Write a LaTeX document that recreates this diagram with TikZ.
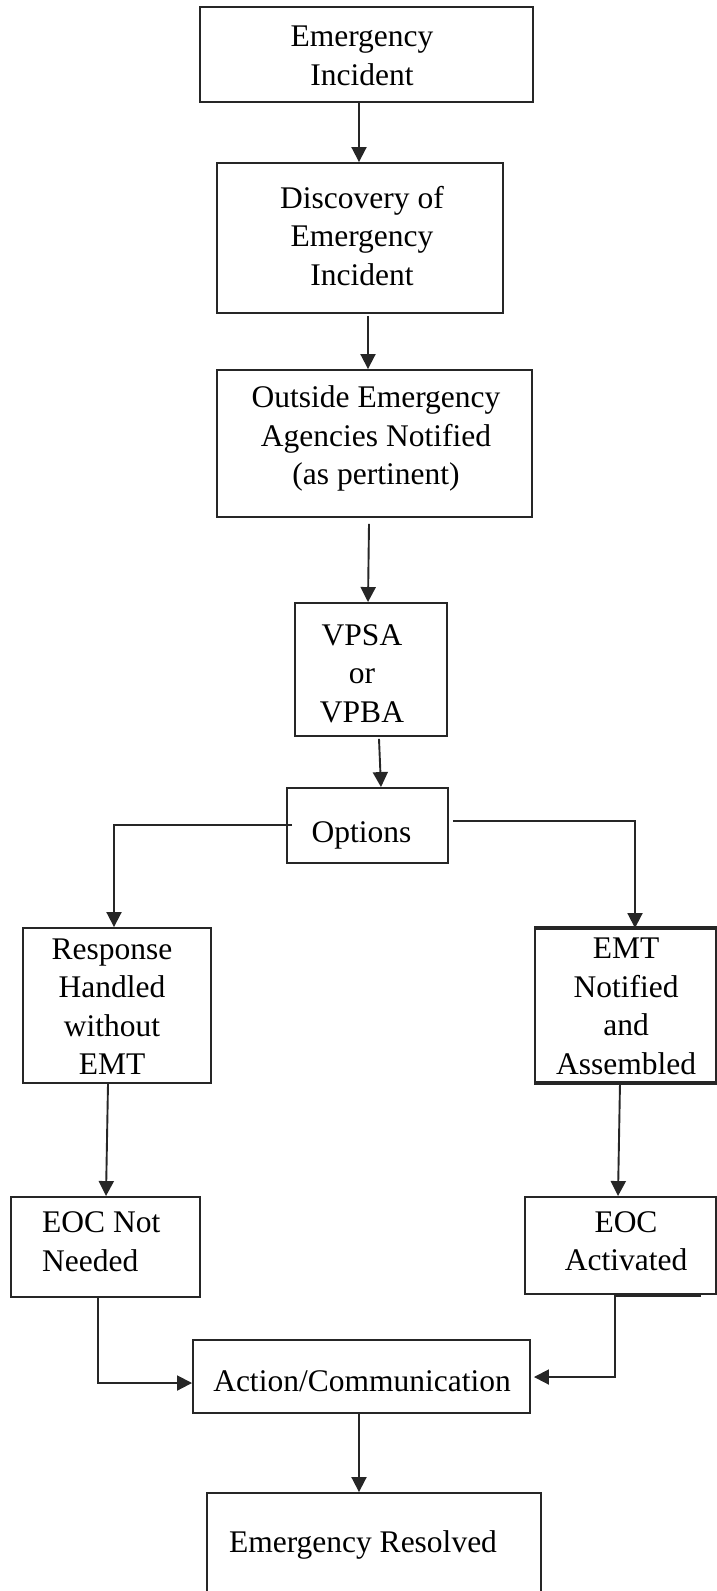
\documentclass[tikz,border=0pt]{standalone}
\usepackage{fontspec}
\setmainfont{Liberation Serif}
\usetikzlibrary{arrows.meta,calc}
\begin{document}
\begin{tikzpicture}[x=1pt,y=-1pt,
  box/.style={draw=black!85, line width=1.9pt, inner sep=0pt},
  txt/.style={inner sep=0pt, align=center, font=\fontsize{31.5}{38.5}\selectfont},
  arr/.style={draw=black!85, line width=1.9pt, -{Triangle[length=15pt,width=15pt]}}]
\useasboundingbox (0,0) rectangle (717,1591);
\clip (0,0) rectangle (717,1591);
% boxes
\node[box, line width=2.8pt, minimum width=333pt, minimum height=95pt] (inc) at (366.5,54.5) {};
\node[txt] (inct) at (362,55.75) {Emergency\\Incident};
\node[box, minimum width=286pt, minimum height=150pt] (disc) at (360,238) {};
\node[txt] (disct) at (362,236) {Discovery of\\Emergency\\Incident};
\node[box, minimum width=315pt, minimum height=147pt] (out) at (374.5,443.5) {};
\node[txt] (outt) at (376,438.5) {Outside Emergency\\Agencies Notified\\(as pertinent)};
\node[box, minimum width=152pt, minimum height=133pt] (vpsa) at (371,669.5) {};
\node[txt] (vpsat) at (362,673.5) {VPSA\\or\\VPBA};
\node[box, minimum width=161pt, minimum height=75pt] (opt) at (367.5,825.5) {};
\node[txt] (optt) at (361.5,835) {Options};
\node[box, minimum width=188pt, minimum height=155pt] (resp) at (117,1005.5) {};
\node[txt] (respt) at (112,1006.5) {Response\\Handled\\without\\EMT};
\node[box, minimum width=181pt, minimum height=153pt] (emt) at (625.5,1005.5) {};
\node[txt] (emtt) at (626,1006.5) {EMT\\Notified\\and\\Assembled};
\draw[black!85, line width=3.2pt] (emt.north west) -- (emt.north east);
\draw[black!85, line width=3.2pt] (emt.south west) -- (emt.south east);
\node[box, minimum width=189pt, minimum height=100pt] (eocn) at (105.5,1247) {};
\node[txt, align=left, anchor=west] (eocnt) at (42,1241.75) {EOC Not\\Needed};
\node[box, minimum width=191pt, minimum height=97pt] (eoca) at (620.5,1245.5) {};
\node[txt] (eocat) at (626,1241) {EOC\\Activated};
\draw[black!85, line width=3.2pt] ($(eoca.south)+(-5.5,0)$) -- ($(eoca.south)+(80,0)$);
\node[box, minimum width=337pt, minimum height=73pt] (act) at (361.5,1376.5) {};
\node[txt] (actt) at (362,1381) {Action/Communication};
\node[box, minimum width=334pt, minimum height=127pt] (res) at (374,1556.5) {};
\node[txt] (rest) at (363,1545) {Emergency Resolved};
% connectors
\draw[arr] ($(inc.south)+(-7.5,0)$) -- ($(disc.north)+(-1,0)$);
\draw[arr] ($(disc.south)+(8,2)$) -- ($(out.north)+(-6.5,0)$);
\draw[arr] ($(out.south)+(-5.5,6)$) -- ($(vpsa.north)+(-3,0)$);
\draw[arr] ($(vpsa.south)+(8,2)$) -- ($(opt.north)+(13.5,0)$);
\draw[arr] ($(opt.west)+(6,-0.5)$) -| ($(resp.north)+(-3,0)$);
\draw[arr] ($(opt.east)+(4,-4.5)$) -| ($(emt.north)+(9.5,0)$);
\draw[arr] ($(resp.south)+(-9,0)$) -- ($(eocn.north)+(0.5,0)$);
\draw[arr] ($(emt.south)+(-5.5,0)$) -- ($(eoca.north)+(-2.5,0)$);
\draw[arr] ($(eocn.south)+(-7.5,0)$) |- ($(act.west)+(0,6.5)$);
\draw[arr] ($(eoca.south)+(-5.5,0)$) |- ($(act.east)+(3,0.5)$);
\draw[arr] ($(act.south)+(-2.5,0)$) -- ($(res.north)+(-15,0)$);
\end{tikzpicture}
\end{document}
